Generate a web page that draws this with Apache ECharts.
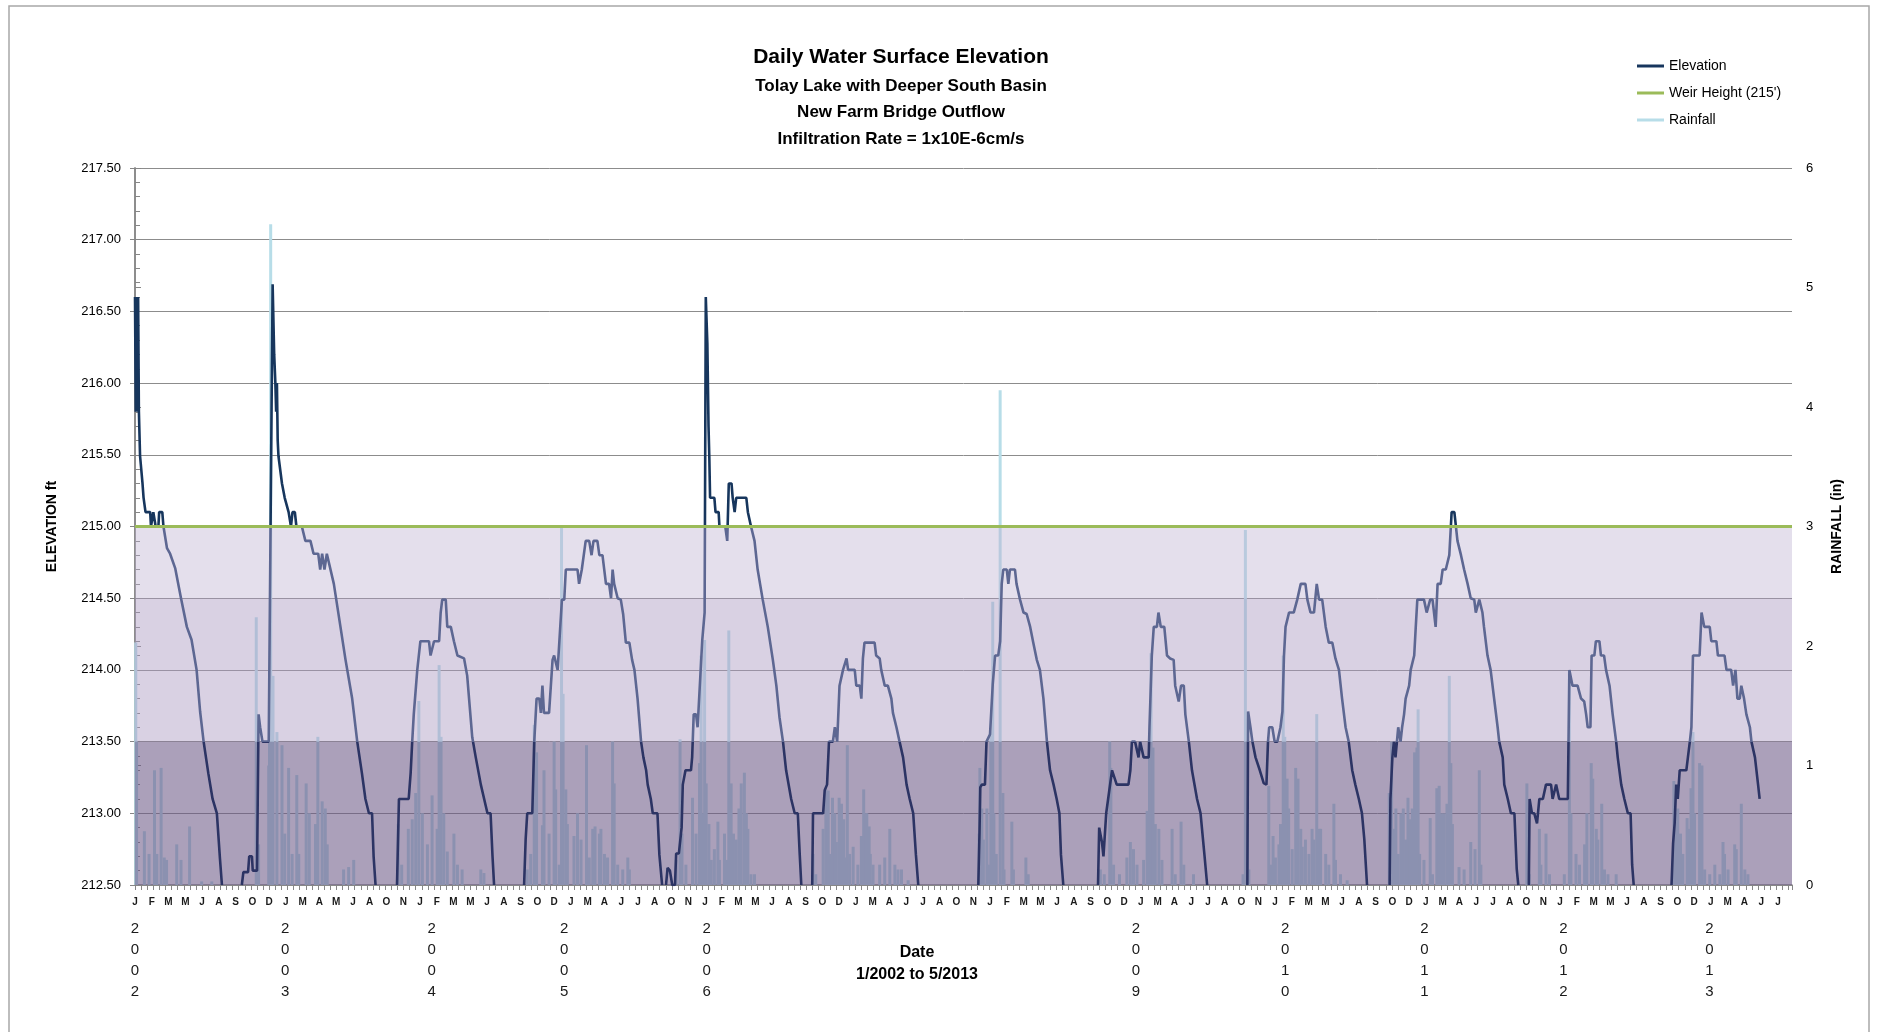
<!DOCTYPE html>
<html><head><meta charset="utf-8">
<script src="https://cdn.jsdelivr.net/npm/echarts@6/dist/echarts.min.js"></script>
<style>html,body{margin:0;padding:0;background:#fff}#c{width:1891px;height:1032px}</style>
</head><body><div id="c"></div>
<script>
// x values are days since 1 Jan 2002
const monthLabels = ['J','F','M','M','J','A','S','O','D','J','M','A','M','J','A','O','N',
  'J','F','M','M','J','A','S','O','D','J','M','A','J','J','A','O','N',
  'J','F','M','M','J','A','S','O','D','J','M','A','J','J','A','O','N',
  'J','F','M','M','J','A','S','O','D','J','M','A','J','J','A','O','N',
  'J','F','M','M','J','A','S','O','D','J','M','A','J','J','A','O','N',
  'J','F','M','M','J','A','S','O','D','J','M','A','J','J'];
const yearLabels = ['2002','2003','2004','2005','2006','2009','2010','2011','2012','2013'];
const yearLabelDays = [0,385,761,1101,1466,2567,2950,3307,3664,4038];
const labelStepDays = 43, tickStepDays = 15.65, axisEndDay = 4250;
const weirHeight = 215;
const bandEdges = [212.5, 213.5, 214.5, 215];
const bandColors = ['rgba(104,84,131,0.556)','rgba(171,153,193,0.45)','rgba(188,175,208,0.4)'];

const elev2002 = [[0,216.6],[2,215.8],[4,216.6],[6,215.8],[8,216.6],[10,215.8],[13,215.49],[19,215.31],[22,215.2],[27,215.1],[39,215.1],[41,215.0],[45,215.0],[47,215.1],[51,215.1],[53,215.0],[60,215.0],[62,215.1],[70,215.1],[73,215.0],[78,215.0],[82,214.85],[90,214.81],[103,214.71],[118,214.5],[133,214.3],[145,214.21],[158,214.0],[167,213.71],[176,213.5],[188,213.28],[199,213.1],[210,213.0],[218,212.68],[223,212.5]];
const elev2003 = [[274,212.5],[278,212.59],[290,212.59],[293,212.7],[300,212.7],[302,212.6],[313,212.6],[317,213.69],[321,213.6],[327,213.5],[343,213.5],[353,216.69],[357,216.2],[360,216.0],[362,215.8],[364,216.0],[366,215.6],[368,215.49],[373,215.49],[377,215.3],[384,215.2],[394,215.1],[400,215.0],[404,215.1],[410,215.1],[414,215.0],[428,215.0],[437,214.9],[450,214.9],[458,214.81],[470,214.81],[475,214.7],[480,214.81],[486,214.7],[492,214.81],[497,214.81],[510,214.6],[527,214.3],[540,214.07],[557,213.8],[570,213.5],[582,213.28],[591,213.1],[600,213.0],[608,213.0],[612,212.7],[617,212.5]];
const elev2004 = [[672,212.5],[677,213.1],[702,213.1],[707,213.28],[711,213.5],[715,213.69],[724,214.0],[732,214.2],[754,214.2],[758,214.1],[763,214.1],[767,214.2],[780,214.2],[784,214.4],[788,214.49],[797,214.49],[801,214.3],[810,214.3],[818,214.2],[827,214.1],[844,214.08],[852,213.96],[865,213.53],[874,213.39],[887,213.2],[904,213.0],[912,213.0],[917,212.7],[921,212.5]];
const elev2005 = [[998,212.5],[1002,212.82],[1006,213.0],[1019,213.0],[1024,213.5],[1030,213.8],[1037,213.8],[1041,213.7],[1045,213.89],[1049,213.7],[1062,213.7],[1071,214.07],[1075,214.1],[1084,214.0],[1088,214.0],[1095,214.49],[1101,214.49],[1105,214.7],[1135,214.7],[1139,214.6],[1146,214.7],[1156,214.9],[1165,214.9],[1171,214.8],[1176,214.9],[1186,214.9],[1191,214.8],[1199,214.8],[1208,214.6],[1216,214.6],[1221,214.5],[1225,214.7],[1229,214.6],[1234,214.6],[1238,214.5],[1246,214.49],[1252,214.39],[1259,214.19],[1268,214.19],[1275,214.07],[1281,214.0],[1289,213.8],[1298,213.5],[1304,213.39],[1311,213.3],[1315,213.2],[1323,213.1],[1328,213.0],[1340,213.0],[1345,212.71],[1352,212.5]];
const elev2006 = [[1362,212.5],[1366,212.62],[1372,212.6],[1378,212.5],[1385,212.5],[1388,212.72],[1395,212.72],[1402,212.9],[1405,213.2],[1412,213.3],[1426,213.3],[1429,213.39],[1433,213.69],[1439,213.69],[1443,213.6],[1448,213.6],[1455,214.21],[1461,214.4],[1464,216.6],[1467,216.6],[1468,216.28],[1471,215.7],[1473,215.49],[1475,215.2],[1486,215.2],[1489,215.1],[1497,215.1],[1499,215.0],[1514,215.0],[1519,214.9],[1523,215.3],[1530,215.3],[1533,215.2],[1538,215.1],[1542,215.2],[1568,215.2],[1572,215.1],[1576,215.1],[1580,215.0],[1589,214.9],[1597,214.7],[1610,214.49],[1623,214.3],[1636,214.07],[1645,213.89],[1653,213.67],[1662,213.5],[1670,213.3],[1683,213.1],[1692,213.0],[1700,213.0],[1705,212.71],[1709,212.5]];
const elev2007 = [[1737,212.5],[1739,213.0],[1765,213.0],[1769,213.16],[1775,213.2],[1780,213.5],[1790,213.5],[1795,213.6],[1801,213.5],[1807,213.89],[1816,214.0],[1825,214.08],[1829,214.0],[1846,214.0],[1850,213.89],[1859,213.89],[1863,213.8],[1867,214.08],[1871,214.19],[1897,214.19],[1901,214.1],[1910,214.08],[1914,214.0],[1923,213.89],[1931,213.89],[1940,213.8],[1944,213.7],[1953,213.6],[1961,213.5],[1970,213.39],[1979,213.2],[1987,213.1],[1996,213.0],[2003,212.71],[2009,212.5]];
const elev2008 = [[2163,212.5],[2166,212.86],[2168,213.18],[2172,213.2],[2180,213.2],[2184,213.5],[2193,213.55],[2200,213.9],[2206,214.1],[2214,214.1],[2219,214.2],[2223,214.6],[2227,214.7],[2236,214.7],[2240,214.6],[2244,214.7],[2257,214.7],[2261,214.6],[2270,214.49],[2279,214.4],[2287,214.39],[2296,214.3],[2304,214.19],[2313,214.07],[2321,214.0],[2330,213.8],[2339,213.5],[2347,213.3],[2356,213.2],[2364,213.1],[2371,213.0],[2375,212.71],[2381,212.5]];
const elev2009 = [[2470,212.5],[2473,212.9],[2480,212.8],[2484,212.7],[2491,213.0],[2495,213.0],[2506,213.3],[2510,213.3],[2518,213.2],[2548,213.2],[2553,213.3],[2557,213.5],[2565,213.5],[2574,213.39],[2578,213.5],[2587,213.39],[2600,213.39],[2602,213.6],[2608,214.1],[2613,214.3],[2621,214.3],[2625,214.4],[2631,214.3],[2640,214.3],[2647,214.1],[2655,214.08],[2664,214.07],[2668,213.89],[2677,213.78],[2683,213.89],[2690,213.89],[2694,213.69],[2703,213.5],[2711,213.3],[2724,213.1],[2733,213.0],[2737,213.0],[2743,212.71],[2750,212.5]];
const elev2010 = [[2853,212.5],[2855,213.71],[2861,213.6],[2866,213.5],[2874,213.39],[2885,213.3],[2895,213.21],[2902,213.2],[2906,213.5],[2909,213.6],[2917,213.6],[2923,213.5],[2930,213.5],[2938,213.6],[2943,213.71],[2947,214.1],[2951,214.3],[2960,214.4],[2972,214.4],[2981,214.49],[2990,214.6],[3002,214.6],[3007,214.49],[3015,214.4],[3024,214.4],[3031,214.6],[3037,214.49],[3045,214.49],[3054,214.3],[3062,214.19],[3071,214.19],[3079,214.08],[3088,214.0],[3096,213.8],[3105,213.6],[3113,213.5],[3122,213.3],[3130,213.2],[3139,213.1],[3147,213.0],[3153,212.82],[3160,212.5]];
const elev2011 = [[3218,212.5],[3220,213.1],[3225,213.39],[3229,213.5],[3233,213.39],[3238,213.39],[3240,213.6],[3246,213.5],[3250,213.6],[3255,213.69],[3259,213.8],[3268,213.89],[3272,214.0],[3281,214.1],[3285,214.3],[3289,214.49],[3306,214.49],[3313,214.4],[3322,214.49],[3328,214.49],[3336,214.3],[3341,214.6],[3349,214.6],[3354,214.7],[3362,214.7],[3371,214.8],[3375,215.0],[3377,215.1],[3384,215.1],[3388,215.0],[3392,214.9],[3401,214.8],[3409,214.7],[3418,214.6],[3426,214.5],[3435,214.49],[3439,214.4],[3448,214.49],[3456,214.4],[3460,214.3],[3469,214.1],[3477,214.0],[3486,213.8],[3495,213.6],[3499,213.5],[3508,213.39],[3512,213.2],[3521,213.1],[3529,213.0],[3538,213.0],[3544,212.61],[3548,212.5]];
const elev2012 = [[3575,212.5],[3577,213.1],[3583,213.0],[3589,213.0],[3596,212.93],[3602,213.1],[3611,213.1],[3619,213.2],[3632,213.2],[3636,213.1],[3645,213.2],[3653,213.1],[3675,213.1],[3679,214.0],[3681,214.0],[3687,213.89],[3700,213.89],[3709,213.8],[3717,213.78],[3722,213.69],[3726,213.6],[3733,213.6],[3736,214.1],[3743,214.1],[3747,214.2],[3756,214.2],[3760,214.1],[3768,214.1],[3773,214.0],[3782,213.89],[3790,213.69],[3799,213.5],[3803,213.39],[3812,213.2],[3820,213.1],[3829,213.0],[3836,213.0],[3840,212.64],[3844,212.5]];
const elev2013 = [[3941,212.5],[3945,212.79],[3949,212.93],[3953,213.2],[3957,213.1],[3962,213.3],[3979,213.3],[3983,213.39],[3988,213.5],[3992,213.6],[3996,214.1],[4013,214.1],[4018,214.4],[4025,214.3],[4039,214.3],[4043,214.2],[4056,214.2],[4060,214.1],[4077,214.1],[4082,214.0],[4094,214.0],[4099,213.89],[4105,214.0],[4110,213.8],[4116,213.8],[4120,213.89],[4127,213.8],[4133,213.69],[4142,213.6],[4146,213.5],[4155,213.39],[4163,213.2],[4167,213.1]];

const rain2002 = [[2,2.03],[4,1.2],[24,0.45],[36,0.26],[50,0.96],[56,0.26],[67,0.98],[75,0.23],[81,0.21],[107,0.34],[118,0.21],[140,0.49],[171,0.03],[197,0.03]];
const rain2003 = [[311,2.24],[317,0.34],[343,1.0],[345,1.54],[348,5.53],[354,1.75],[364,1.28],[377,1.17],[384,0.43],[394,0.98],[403,0.26],[415,0.92],[420,0.26],[439,0.85],[447,0.6],[463,0.51],[469,1.24],[480,0.7],[488,0.64],[493,0.34],[535,0.13],[548,0.15],[561,0.21]];
const rain2004 = [[675,0.51],[684,0.17],[701,0.47],[711,0.55],[720,0.77],[728,1.54],[737,0.6],[750,0.34],[762,0.75],[775,0.47],[780,1.84],[785,1.24],[792,0.6],[801,0.28],[818,0.43],[827,0.17],[839,0.13],[887,0.13],[895,0.1]];
const rain2005 = [[1006,0.13],[1015,0.26],[1024,1.34],[1030,1.11],[1045,0.5],[1049,0.96],[1062,0.43],[1075,1.2],[1079,0.8],[1088,0.17],[1094,2.99],[1098,1.6],[1105,0.8],[1109,0.51],[1126,0.41],[1135,0.6],[1144,0.38],[1158,1.17],[1165,0.23],[1174,0.47],[1180,0.49],[1191,0.43],[1195,0.47],[1204,0.26],[1212,0.23],[1225,1.2],[1229,0.85],[1238,0.17],[1251,0.13],[1264,0.23],[1268,0.13]];
const rain2006 = [[1388,0.21],[1398,1.22],[1403,0.43],[1413,0.17],[1430,0.73],[1439,0.43],[1448,1.02],[1452,1.92],[1456,0.6],[1461,2.05],[1465,0.85],[1472,0.51],[1478,0.21],[1486,0.3],[1495,0.53],[1499,0.21],[1512,0.43],[1518,0.21],[1523,2.13],[1529,0.85],[1535,0.43],[1542,0.38],[1549,0.64],[1555,0.85],[1563,0.94],[1568,0.6],[1572,0.47],[1580,0.09],[1589,0.09]];
const rain2007 = [[1739,0.26],[1746,0.09],[1765,0.47],[1772,0.8],[1778,0.79],[1782,0.26],[1789,0.73],[1795,0.6],[1799,0.36],[1806,0.73],[1812,0.68],[1818,0.55],[1823,0.23],[1827,1.17],[1833,0.26],[1842,0.32],[1854,0.17],[1863,0.41],[1869,0.8],[1874,0.6],[1877,0.6],[1883,0.49],[1886,0.26],[1893,0.17],[1910,0.17],[1923,0.23],[1936,0.47],[1949,0.17],[1957,0.13],[1966,0.13],[1983,0.04]];
const rain2008 = [[2165,0.43],[2167,0.98],[2172,0.64],[2176,0.38],[2185,0.64],[2189,0.17],[2195,1.28],[2200,2.37],[2203,0.6],[2209,0.26],[2219,4.14],[2226,0.77],[2229,0.13],[2249,0.53],[2253,0.13],[2285,0.23],[2291,0.09]];
const rain2009 = [[2476,0.13],[2486,0.09],[2500,1.2],[2503,0.98],[2510,0.17],[2525,0.09],[2544,0.23],[2553,0.36],[2561,0.3],[2570,0.17],[2587,0.21],[2596,0.62],[2602,1.2],[2606,1.94],[2611,1.15],[2617,0.51],[2626,0.47],[2634,0.21],[2660,0.47],[2668,0.09],[2683,0.53],[2690,0.17],[2715,0.09]];
const rain2010 = [[2842,0.09],[2848,2.97],[2853,0.51],[2857,0.13],[2908,0.83],[2913,0.17],[2919,0.41],[2925,0.23],[2934,0.34],[2938,0.51],[2945,1.92],[2949,1.24],[2955,0.89],[2959,0.64],[2968,0.3],[2977,0.98],[2983,0.89],[2990,0.47],[2994,0.32],[3002,0.38],[3011,0.26],[3019,0.47],[3024,0.38],[3031,1.43],[3037,0.47],[3041,0.47],[3054,0.26],[3062,0.17],[3075,0.68],[3079,0.21],[3092,0.09],[3109,0.04]];
const rain2011 = [[3217,0.77],[3223,1.2],[3228,0.47],[3234,0.64],[3240,0.26],[3247,0.6],[3253,0.64],[3259,0.38],[3265,0.73],[3270,0.55],[3276,0.64],[3282,1.11],[3288,1.15],[3291,1.47],[3295,0.26],[3306,0.21],[3322,0.56],[3328,0.09],[3339,0.81],[3345,0.83],[3351,0.6],[3358,0.6],[3365,0.68],[3371,1.75],[3375,1.02],[3379,0.51],[3396,0.15],[3409,0.13],[3426,0.36],[3437,0.3],[3448,0.96],[3452,0.17]];
const rain2012 = [[3570,0.85],[3576,0.09],[3602,0.47],[3606,0.17],[3619,0.43],[3628,0.09],[3666,0.09],[3679,1.79],[3683,0.6],[3696,0.26],[3705,0.17],[3718,0.34],[3724,0.6],[3735,1.02],[3739,0.89],[3748,0.47],[3752,0.38],[3762,0.68],[3769,0.13],[3778,0.09],[3799,0.09]];
const rain2013 = [[3947,0.87],[3953,0.6],[3957,0.64],[3964,0.43],[3970,0.26],[3981,0.56],[3987,0.47],[3991,0.81],[3996,1.28],[4000,0.6],[4013,1.02],[4019,1.0],[4026,0.13],[4039,0.09],[4052,0.17],[4065,0.09],[4073,0.36],[4077,0.26],[4086,0.13],[4103,0.34],[4107,0.3],[4120,0.68],[4129,0.13],[4137,0.09]];

const elevSeasons = [elev2002,elev2003,elev2004,elev2005,elev2006,elev2007,elev2008,elev2009,elev2010,elev2011,elev2012,elev2013];
const rainSeasons = [rain2002,rain2003,rain2004,rain2005,rain2006,rain2007,rain2008,rain2009,rain2010,rain2011,rain2012,rain2013];

const elevData = [];
elevSeasons.forEach(s => { elevData.push(...s); elevData.push([s[s.length - 1][0], null]); });
const rainData = [].concat(...rainSeasons);

const FONT = "'Liberation Sans', Arial, sans-serif";
const GRAY = '#868686';
const chart = echarts.init(document.getElementById('c'), null, { renderer: 'canvas' });

const bandAreas = bandColors.map((c, i) => [{ yAxis: bandEdges[i], itemStyle: { color: c } }, { yAxis: bandEdges[i + 1] }]);

chart.setOption({
  animation: false,
  backgroundColor: '#fff',
  textStyle: { fontFamily: FONT },
  graphic: [{ type: 'rect', silent: true, shape: { x: 9, y: 6, width: 1860, height: 1040 }, style: { fill: 'none', stroke: '#a8a8a8', lineWidth: 1.5 } }],
  title: [
    { text: 'Daily Water Surface Elevation',
      subtext: 'Tolay Lake with Deeper South Basin\nNew Farm Bridge Outflow\nInfiltration Rate = 1x10E-6cm/s',
      left: 896, top: 40, textAlign: 'center', itemGap: 4,
      textStyle: { fontFamily: FONT, fontSize: 21, fontWeight: 'bold', color: '#000', lineHeight: 24 },
      subtextStyle: { fontFamily: FONT, fontSize: 17, fontWeight: 'bold', color: '#000', lineHeight: 26.5 } },
    { text: 'Date', subtext: '1/2002 to 5/2013', left: 912, top: 938, textAlign: 'center', itemGap: 2,
      textStyle: { fontFamily: FONT, fontSize: 16, fontWeight: 'bold', color: '#000', lineHeight: 20 },
      subtextStyle: { fontFamily: FONT, fontSize: 16, fontWeight: 'bold', color: '#000', lineHeight: 20 } }
  ],
  legend: {
    orient: 'vertical', left: 1632, top: 54, icon: 'rect', itemWidth: 27, itemHeight: 3, itemGap: 13,
    textStyle: { fontFamily: FONT, fontSize: 14, color: '#000' },
    data: [
      { name: 'Elevation', itemStyle: { color: '#17365d' } },
      { name: "Weir Height (215')", itemStyle: { color: '#9bbb59' } },
      { name: 'Rainfall', itemStyle: { color: '#b7dde8' } }
    ]
  },
  grid: { left: 135, right: 99, top: 168, bottom: 147 },
  xAxis: [
    { type: 'value', min: 0, max: axisEndDay, interval: labelStepDays, position: 'bottom',
      axisLine: { show: true, lineStyle: { color: GRAY, width: 1.5 } }, axisTick: { show: false }, splitLine: { show: false },
      axisLabel: { fontSize: 10, fontWeight: 'bold', color: '#1a1a1a', margin: 12, showMaxLabel: false,
        formatter: v => monthLabels[Math.round(v / labelStepDays)] || '' } },
    { type: 'value', min: 0, max: axisEndDay, interval: tickStepDays, position: 'bottom',
      axisLine: { show: false }, axisTick: { show: true, length: 5, lineStyle: { color: GRAY } },
      axisLabel: { show: false }, splitLine: { show: false } },
    { type: 'value', min: 0, max: axisEndDay, position: 'bottom',
      axisLine: { show: false }, axisTick: { show: false }, splitLine: { show: false },
      axisLabel: { customValues: yearLabelDays, fontFamily: "'Liberation Sans Narrow', 'Liberation Sans', sans-serif",
        fontSize: 15, lineHeight: 20.7, color: '#1a1a1a', margin: 34, showMinLabel: true, showMaxLabel: true,
        formatter: v => { const i = yearLabelDays.indexOf(v); return i < 0 ? '' : yearLabels[i].split('').join('\n'); } } }
  ],
  yAxis: [
    { type: 'value', min: 212.5, max: 217.5, interval: 0.5, position: 'left',
      name: 'ELEVATION ft', nameLocation: 'middle', nameRotate: 90, nameGap: 76,
      nameTextStyle: { fontFamily: FONT, fontSize: 14, fontWeight: 'bold', color: '#000' },
      axisLine: { show: true, lineStyle: { color: GRAY, width: 1.5 } },
      axisTick: { show: true, length: 5, lineStyle: { color: GRAY } },
      axisLabel: { fontSize: 13, color: '#000', margin: 14, formatter: v => v.toFixed(2) },
      splitLine: { show: true, lineStyle: { color: '#8c8c8c', width: 1 } } },
    { type: 'value', min: 0, max: 6, interval: 1, position: 'right',
      name: 'RAINFALL (in)', nameLocation: 'middle', nameRotate: 90, nameGap: 38,
      nameTextStyle: { fontFamily: FONT, fontSize: 14, fontWeight: 'bold', color: '#000' },
      axisLine: { show: true, lineStyle: { color: GRAY, width: 1.5 } },
      axisTick: { show: true, length: 6, lineStyle: { color: GRAY } },
      axisLabel: { fontSize: 13, color: '#000', margin: 14 },
      splitLine: { show: false } },
    { type: 'value', min: 212.5, max: 217.5, interval: 0.1, position: 'left',
      axisLine: { show: false }, axisTick: { show: true, inside: true, length: 5, lineStyle: { color: GRAY } },
      axisLabel: { show: false }, splitLine: { show: false } }
  ],
  visualMap: [{
    type: 'piecewise', show: false, seriesIndex: 2, dimension: 1,
    pieces: [
      { gt: weirHeight, color: '#17365d' },
      { gt: bandEdges[1], lte: weirHeight, color: '#5d6792' },
      { lte: bandEdges[1], color: '#2c3464' }
    ]
  }],
  series: [
    { name: 'Rainfall', type: 'bar', xAxisIndex: 0, yAxisIndex: 1, data: rainData, barWidth: 3, z: 2,
      itemStyle: { color: '#b7dde8' }, silent: true },
    { name: 'bands', type: 'line', xAxisIndex: 0, yAxisIndex: 0, data: [], z: 3, silent: true,
      markArea: { silent: true, z: 3, data: bandAreas } },
    { name: 'Elevation', type: 'line', xAxisIndex: 0, yAxisIndex: 0, data: elevData, z: 4,
      showSymbol: false, symbol: 'none', connectNulls: false, silent: true,
      lineStyle: { width: 2.6 } },
    { name: "Weir Height (215')", type: 'line', xAxisIndex: 0, yAxisIndex: 0, data: [], z: 5, silent: true,
      itemStyle: { color: '#9bbb59' }, lineStyle: { color: '#9bbb59' },
      markLine: { silent: true, symbol: ['none', 'none'], label: { show: false }, z: 5,
        lineStyle: { color: '#9bbb59', width: 3, type: 'solid' }, data: [{ yAxis: weirHeight }] } }
  ]
});
</script></body></html>
